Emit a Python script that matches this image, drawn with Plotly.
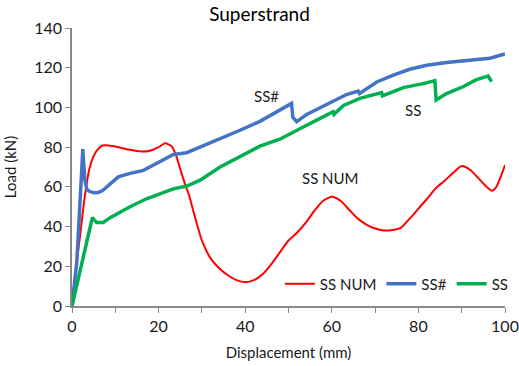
import plotly.graph_objects as go

# SS NUM (numerical, red)
num_x = [0, 1, 2, 3, 4, 5, 6, 7, 8, 10, 13, 16, 18, 20, 21.5, 23, 24, 25, 26, 27, 28, 30, 32, 34, 36, 38, 40,
         42, 44, 46, 48, 50, 52, 54, 56, 58, 60, 62, 64, 66, 68, 70, 72, 74, 76, 78, 80, 82, 84, 86, 88, 90,
         92, 94, 96, 97, 98, 99, 100]
num_y = [0, 20, 38, 56, 69, 75.5, 79, 80.8, 81, 80.3, 78.8, 77.8, 78.2, 80, 81.9, 80.5, 76, 69, 62, 56, 48, 33, 24,
         19, 15.5, 13, 12, 13, 16, 21, 27, 33, 37, 42, 48, 53, 55, 53, 48.5, 44, 41, 39, 38, 38.3, 39.5, 44, 49,
         54, 59.3, 63, 67, 70.5, 68.5, 64, 59.5, 58, 60, 65, 71]

# SS# (blue)
ssh_x = [0, 0.5, 1.1, 1.5, 1.85, 2.2, 2.5, 2.7, 3, 3.4, 3.8, 5, 6, 7, 8, 9, 10.7, 13.4, 16.5, 19.6, 23.4, 26.5,
         29.6, 34.2, 38.8, 43.4, 46.5, 48, 50.7, 51, 51.9, 54.2, 58.8, 63.4, 66.1, 66.4, 70.4, 74.2, 78, 81.9,
         86.5, 91.9, 96.5, 100]
ssh_y = [0, 10, 22, 38, 55, 70, 79, 72, 63, 59, 58, 57, 57.2, 58, 60, 62, 65, 66.8, 68.3, 71.9, 76.3, 77.2, 80,
         84.4, 88.5, 93, 97, 98.7, 102, 95, 92.8, 96.5, 101.5, 106.5, 108.2, 107, 112.8, 116.3, 119.2, 121.2,
         122.6, 123.8, 124.8, 126.9]

# SS (green)
ss_x = [0, 4.7, 5.7, 7.2, 8.8, 11.1, 13.4, 17.2, 20.3, 23.4, 26.5, 29.6, 34.2, 38.8, 43.4, 48, 52.7, 54.2, 57.3,
        60.3, 60.5, 62.7, 66.5, 71.5, 71.7, 76.5, 81.1, 83.8, 84.1, 86.5, 90.3, 93.4, 96.1, 96.9]
ss_y = [0, 44.5, 42, 42, 44.5, 47.5, 50, 54, 56.7, 59, 60.4, 63.4, 70, 75.2, 80.5, 84, 89, 91, 94.5, 97.8, 96.5,
        101, 104.6, 107.5, 105.8, 110, 112, 113.5, 103.7, 107, 110.4, 114, 115.8, 113]

x_ticks = [0, 20, 40, 60, 80, 100]
y_ticks = [0, 20, 40, 60, 80, 100, 120, 140]

FONT = "Lato"
TXT = "#1a1a1a"
AX = "#898989"

fig = go.Figure()
fig.add_trace(go.Scatter(x=num_x, y=num_y, mode="lines", name="SS NUM",
                         line=dict(color="#FF0000", width=2, shape="spline", smoothing=0.6)))
fig.add_trace(go.Scatter(x=ssh_x, y=ssh_y, mode="lines", name="SS#",
                         line=dict(color="#4472C4", width=3.5)))
fig.add_trace(go.Scatter(x=ss_x, y=ss_y, mode="lines", name="SS",
                         line=dict(color="#00B050", width=3.5)))

annots = [("SS#", 45, 105.7), ("SS", 78.8, 98.7), ("SS NUM", 59.6, 64.5)]
for t, ax_, ay_ in annots:
    fig.add_annotation(x=ax_, y=ay_, text=t, showarrow=False,
                       font=dict(family=FONT, size=15, color=TXT))

fig.update_layout(
    width=519, height=366,
    margin=dict(l=72, r=14, t=28, b=60, autoexpand=False),
    paper_bgcolor="white", plot_bgcolor="white",
    title=dict(text="Superstrand", x=0.5, xanchor="center", y=0.96, yanchor="middle",
               font=dict(family=FONT, size=19, color="#000000")),
    font=dict(family=FONT, color=TXT),
    showlegend=True,
    legend=dict(orientation="h", x=0.48, xanchor="left", y=0.02, yanchor="bottom",
                font=dict(family=FONT, size=15, color=TXT), bgcolor="rgba(0,0,0,0)",
                itemwidth=30, tracegroupgap=0),
    xaxis=dict(range=[0, 100], tickvals=x_ticks, showgrid=False, zeroline=False, automargin=False,
               showline=True, linecolor=AX, linewidth=1.5, ticks="outside", ticklen=5,
               tickcolor=AX, tickfont=dict(family=FONT, size=16, color=TXT),
               minor=dict(ticks="outside", dtick=10, ticklen=5, tickcolor=AX),
               title=dict(text="Displacement (mm)", font=dict(family=FONT, size=15, color=TXT), standoff=14)),
    yaxis=dict(range=[0, 140], tickvals=y_ticks, showgrid=False, zeroline=False, automargin=False,
               showline=True, linecolor=AX, linewidth=1.5, ticks="outside", ticklen=5,
               tickcolor=AX, tickfont=dict(family=FONT, size=16, color=TXT),
               title=dict(text="Load (kN)", font=dict(family=FONT, size=15, color=TXT), standoff=14)),
)

fig.write_html("out.html")
